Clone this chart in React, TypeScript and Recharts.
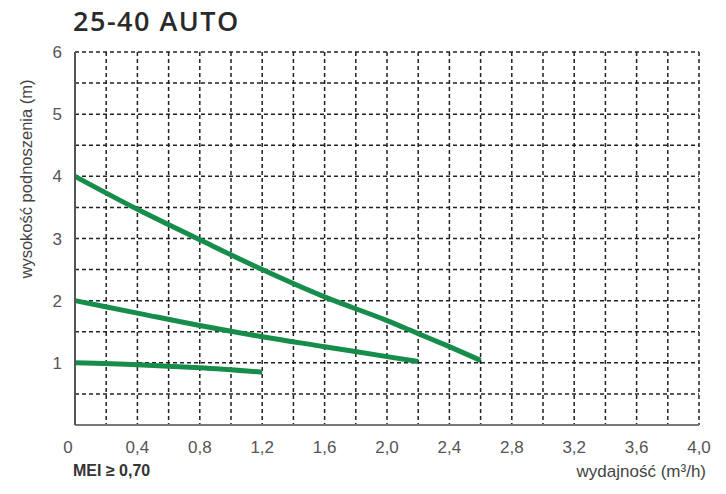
import { LineChart, Line, XAxis, YAxis, CartesianGrid, ReferenceLine } from 'recharts'

// flow (m3/h) and head (m)
const flowHigh = [0, 0.4, 0.8, 1.2, 1.6, 2.0, 2.2, 2.4, 2.6]
const headHigh = [4.0, 3.47, 2.98, 2.5, 2.06, 1.68, 1.47, 1.26, 1.04]

const flowMid = [0, 0.4, 0.8, 1.2, 1.6, 2.0, 2.2]
const headMid = [2.0, 1.8, 1.6, 1.42, 1.26, 1.1, 1.02]

const flowLow = [0, 0.4, 0.8, 1.2]
const headLow = [1.0, 0.97, 0.92, 0.85]

const xTicks = [0, 0.2, 0.4, 0.6, 0.8, 1.0, 1.2, 1.4, 1.6, 1.8, 2.0, 2.2, 2.4, 2.6, 2.8, 3.0, 3.2, 3.4, 3.6, 3.8, 4.0]
const yTicks = [0, 0.5, 1, 1.5, 2, 2.5, 3, 3.5, 4, 4.5, 5, 5.5, 6]

const toPoints = (xs: number[], ys: number[]) => xs.map((q, i) => ({ q, h: ys[i] }))

const GREEN = '#178d4b'
const FONT = '"Liberation Sans", Arial, sans-serif'

const XTick = (props: any) => {
    const { x, y, payload } = props
    const v = payload.value
    if (Math.round(v * 10) % 4 !== 0) return null
    const label = v === 0 ? '0' : v.toFixed(1).replace('.', ',')
    return (
        <text x={v === 0 ? x - 7 : x} y={y + 20} textAnchor="middle" fill="#555" fontSize={17} fontFamily={FONT}>
            {label}
        </text>
    )
}

const YTick = (props: any) => {
    const { x, y, payload } = props
    const v = payload.value
    if (v === 0 || v % 1 !== 0) return null
    return (
        <text x={x - 5} y={y + 6} textAnchor="end" fill="#555" fontSize={17} fontFamily={FONT}>
            {v}
        </text>
    )
}

export default function App() {
    return (
        <div style={{ position: 'absolute', left: 0, top: 0, width: 726, height: 494, background: '#fff' }}>
            <LineChart width={726} height={494} margin={{ top: 52, right: 27, left: 35, bottom: 0 }}>
                <CartesianGrid stroke="#222" strokeWidth={1.5} strokeDasharray="4 3" horizontalValues={yTicks} verticalValues={xTicks} />
                <XAxis
                    type="number"
                    dataKey="q"
                    domain={[0, 4]}
                    ticks={xTicks}
                    interval={0}
                    height={69}
                    tick={<XTick />}
                    tickLine={false}
                    axisLine={{ stroke: '#777', strokeWidth: 2 }}
                />
                <YAxis
                    type="number"
                    dataKey="h"
                    domain={[0, 6]}
                    ticks={yTicks}
                    interval={0}
                    width={40}
                    tick={<YTick />}
                    tickLine={false}
                    axisLine={{ stroke: '#555', strokeWidth: 2 }}
                />
                <ReferenceLine x={0} stroke="#555" strokeWidth={2} />
                <Line data={toPoints(flowHigh, headHigh)} dataKey="h" type="monotone" stroke={GREEN} strokeWidth={5} dot={false} isAnimationActive={false} />
                <Line data={toPoints(flowMid, headMid)} dataKey="h" type="monotone" stroke={GREEN} strokeWidth={5} dot={false} isAnimationActive={false} />
                <Line data={toPoints(flowLow, headLow)} dataKey="h" type="monotone" stroke={GREEN} strokeWidth={5} dot={false} isAnimationActive={false} />
            </LineChart>

            <div style={{ position: 'absolute', left: 73, top: 7, lineHeight: '27px', fontFamily: '"Open Sans", sans-serif', fontWeight: 600, fontSize: 27, letterSpacing: 1.5, color: '#2a2a2a' }}>
                25-40 AUTO
            </div>
            <div
                style={{
                    position: 'absolute', left: 26, top: 179, transform: 'translate(-50%, -50%) rotate(-90deg)',
                    whiteSpace: 'nowrap', fontFamily: FONT, fontSize: 16.5, color: '#444',
                }}
            >
                wysokość podnoszenia (m)
            </div>
            <div style={{ position: 'absolute', left: 73, top: 462, fontFamily: FONT, fontWeight: 700, fontSize: 16, color: '#333' }}>
                MEI ≥ 0,70
            </div>
            <div style={{ position: 'absolute', right: 20, top: 462, fontFamily: FONT, fontSize: 17, color: '#444' }}>
                wydajność (m³/h)
            </div>
        </div>
    )
}
